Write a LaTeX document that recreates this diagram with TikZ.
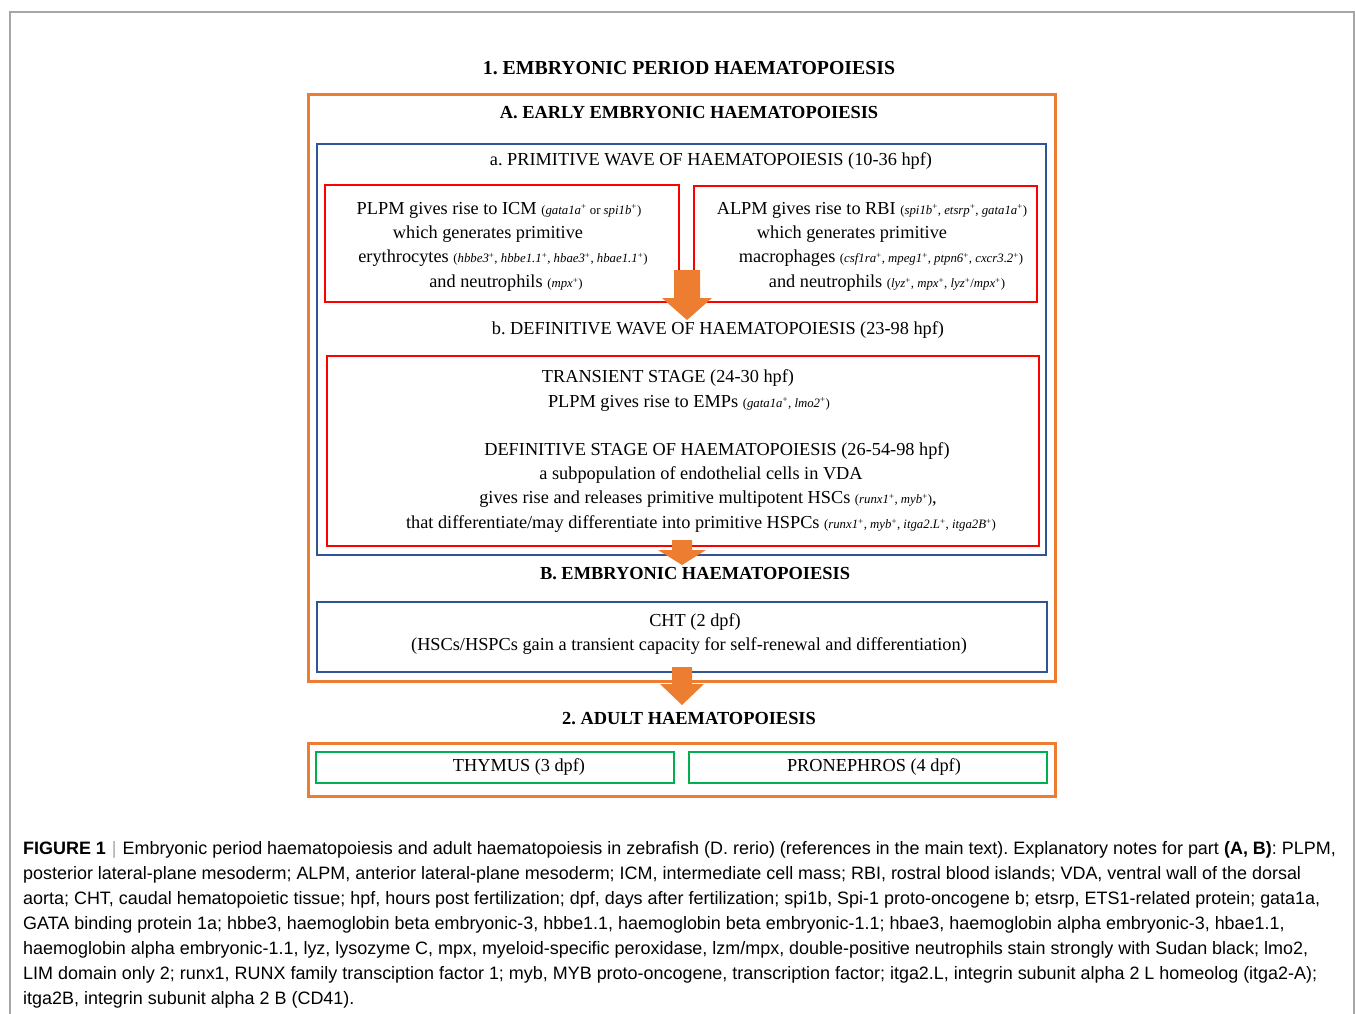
\documentclass[tikz,border=0pt]{standalone}
\usepackage{fontspec}
\setmainfont{Liberation Serif}
\newfontfamily\capfont{Liberation Sans}
\frenchspacing
\definecolor{orng}{HTML}{ED7D31}
\definecolor{dblue}{HTML}{2F5597}
\definecolor{rred}{HTML}{FF0000}
\definecolor{ggreen}{HTML}{00B050}
\newcommand{\gn}[1]{{\fontsize{12.8}{13}\selectfont #1}}
\newcommand{\pl}{\textsuperscript{+}}
\tikzset{
  obox/.style={draw=orng,line width=3pt},
  bbox/.style={draw=dblue,line width=2.2pt},
  rbox/.style={draw=rred,line width=1.2pt},
  gbox/.style={draw=ggreen,line width=2.2pt},
  head/.style={font=\fontsize{18.4}{20}\selectfont\bfseries,inner sep=0pt},
  htitle/.style={font=\fontsize{19.8}{22}\selectfont\bfseries,inner sep=0pt},
  txt/.style={font=\fontsize{18.3}{20}\selectfont,inner sep=0pt},
  capline/.style={anchor=west,inner sep=0pt,font=\capfont\fontsize{17.95}{20}\selectfont},
  barrow/.style={fill=orng,draw=none}
}
\begin{document}
\begin{tikzpicture}[x=1pt,y=-1pt]
\useasboundingbox (0,0) rectangle (1355,1014);
\draw[gray!70,line width=1.2pt] (10,1030) -- (10,12) -- (1354,12) -- (1354,1030);
\node[htitle] (t1) at (689,68) {1. EMBRYONIC PERIOD HAEMATOPOIESIS};
\draw[obox] (308,95) rectangle (1055,681);
\node[head] (tA) at (689,113) {A. EARLY EMBRYONIC HAEMATOPOIESIS};
\draw[bbox] (317,144) rectangle (1046,555);
\node[txt] (ta) at (711,161) {a. PRIMITIVE WAVE OF HAEMATOPOIESIS (10-36 hpf)};
\draw[rbox] (325,185) rectangle (679,302);
\draw[rbox] (694,186) rectangle (1037,302);
\node[txt] (l1) at (499,210) {PLPM gives rise to ICM \gn{(\textit{gata1a}\pl{} or \textit{spi1b}\pl)}};
\node[txt] (l2) at (488,234) {which generates primitive};
\node[txt] (l3) at (503,258) {erythrocytes \gn{(\textit{hbbe3}\pl, \textit{hbbe1.1}\pl, \textit{hbae3}\pl, \textit{hbae1.1}\pl)}};
\node[txt] (l4) at (506,283) {and neutrophils \gn{(\textit{mpx}\pl)}};
\node[txt] (r1) at (872,210) {ALPM gives rise to RBI \gn{(\textit{spi1b}\pl, \textit{etsrp}\pl, \textit{gata1a}\pl)}};
\node[txt] (r2) at (852,234) {which generates primitive};
\node[txt] (r3) at (881,258) {macrophages \gn{(\textit{csf1ra}\pl, \textit{mpeg1}\pl, \textit{ptpn6}\pl, \textit{cxcr3.2}\pl)}};
\node[txt] (r4) at (887,283) {and neutrophils \gn{(\textit{lyz}\pl, \textit{mpx}\pl, \textit{lyz}\pl/\textit{mpx}\pl)}};
\node[txt] (tb) at (718,330) {b. DEFINITIVE WAVE OF HAEMATOPOIESIS (23-98 hpf)};
\draw[rbox] (327,356) rectangle (1039,546);
\node[txt] (d1) at (668,378) {TRANSIENT STAGE (24-30 hpf)};
\node[txt] (d2) at (689,403) {PLPM gives rise to EMPs \gn{(\textit{gata1a}\pl, \textit{lmo2}\pl)}};
\node[txt] (d3) at (717,451) {DEFINITIVE STAGE OF HAEMATOPOIESIS (26-54-98 hpf)};
\node[txt] (d4) at (701,475) {a subpopulation of endothelial cells in VDA};
\node[txt] (d5) at (708,499) {gives rise and releases primitive multipotent HSCs \gn{(\textit{runx1}\pl, \textit{myb}\pl)},};
\node[txt] (d6) at (701,524) {that differentiate/may differentiate into primitive HSPCs \gn{(\textit{runx1}\pl, \textit{myb}\pl, \textit{itga2.L}\pl, \textit{itga2B}\pl)}};
\node[head] (tB) at (695,574) {B. EMBRYONIC HAEMATOPOIESIS};
\draw[bbox] (317,602) rectangle (1047,672);
\node[txt] (c1) at (695,622) {CHT (2 dpf)};
\node[txt] (c2) at (689,646) {(HSCs/HSPCs gain a transient capacity for self-renewal and differentiation)};
\node[head] (t2) at (689,719) {2. ADULT HAEMATOPOIESIS};
\draw[obox] (308,743) rectangle (1055,796);
\draw[gbox] (316,752) rectangle (674,783);
\draw[gbox] (689,752) rectangle (1047,783);
\node[txt] (g1) at (519,767) {THYMUS (3 dpf)};
\node[txt] (g2) at (874,767) {PRONEPHROS (4 dpf)};
% block arrows
\fill[barrow] (674,270) -- (700,270) -- (700,298) -- (712,298) -- (687,320) -- (662,298) -- (674,298) -- cycle;
\fill[barrow] (672,540) -- (692,540) -- (692,550) -- (706,550) -- (682,565) -- (658,550) -- (672,550) -- cycle;
\fill[barrow] (672,667) -- (692,667) -- (692,684) -- (704,684) -- (682,705) -- (660,684) -- (672,684) -- cycle;
% caption
\node[capline] (k1) at (23,850) {\textbf{FIGURE 1}\,\textcolor{gray!70}{\,|\,}\,Embryonic period haematopoiesis and adult haematopoiesis in zebrafish (D. rerio) (references in the main text). Explanatory notes for part \textbf{(A, B)}: PLPM,};
\node[capline] (k2) at (23,875) {posterior lateral-plane mesoderm; ALPM, anterior lateral-plane mesoderm; ICM, intermediate cell mass; RBI, rostral blood islands; VDA, ventral wall of the dorsal};
\node[capline] (k3) at (23,900) {aorta; CHT, caudal hematopoietic tissue; hpf, hours post fertilization; dpf, days after fertilization; spi1b, Spi-1 proto-oncogene b; etsrp, ETS1-related protein; gata1a,};
\node[capline] (k4) at (23,925) {GATA binding protein 1a; hbbe3, haemoglobin beta embryonic-3, hbbe1.1, haemoglobin beta embryonic-1.1; hbae3, haemoglobin alpha embryonic-3, hbae1.1,};
\node[capline] (k5) at (23,950) {haemoglobin alpha embryonic-1.1, lyz, lysozyme C, mpx, myeloid-specific peroxidase, lzm/mpx, double-positive neutrophils stain strongly with Sudan black; lmo2,};
\node[capline] (k6) at (23,975) {LIM domain only 2; runx1, RUNX family transciption factor 1; myb, MYB proto-oncogene, transcription factor; itga2.L, integrin subunit alpha 2 L homeolog (itga2-A);};
\node[capline] (k7) at (23,1000) {itga2B, integrin subunit alpha 2 B (CD41).};
\end{tikzpicture}
\end{document}
